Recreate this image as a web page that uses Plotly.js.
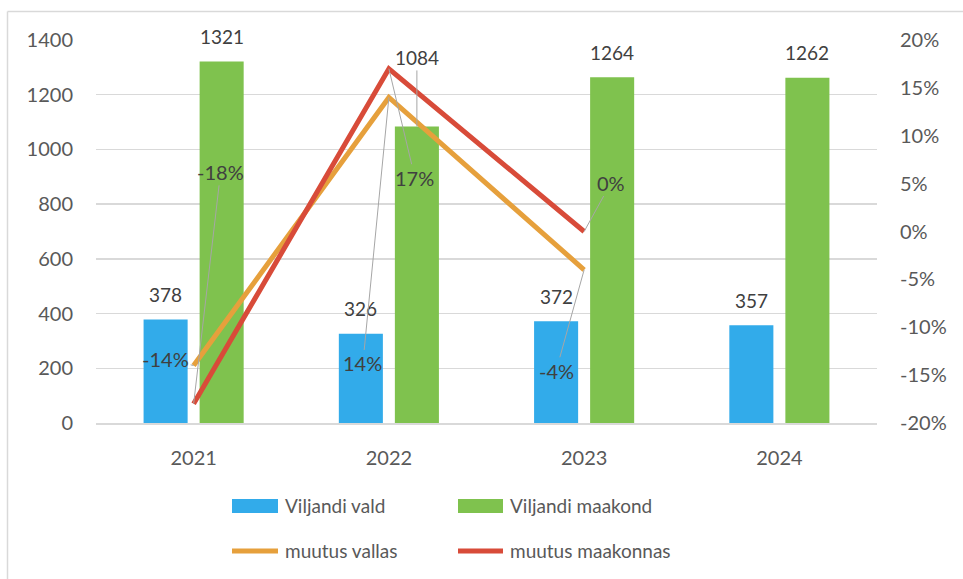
<!DOCTYPE html>
<html>
<head>
<meta charset="utf-8">
<script src="https://cdn.plot.ly/plotly-3.0.1.min.js"></script>
<style>
  html, body { margin: 0; padding: 0; background: #fff; }
  #chart { width: 963px; height: 579px; }
</style>
</head>
<body>
<div id="chart"></div>
<script>
// ---- data ----
const years = ['2021', '2022', '2023', '2024'];
const seriesNames = ['Viljandi vald', 'Viljandi maakond', 'muutus vallas', 'muutus maakonnas'];
const vald = [378, 326, 372, 357];
const maakond = [1321, 1084, 1264, 1262];
const muutusVallas = [-0.14, 0.14, -0.04];
const muutusMaakonnas = [-0.18, 0.17, 0.00];
const leftTickVals = [0, 200, 400, 600, 800, 1000, 1200, 1400];
const rightTickVals = [-0.20, -0.15, -0.10, -0.05, 0, 0.05, 0.10, 0.15, 0.20];
const rightTickText = ['-20%', '-15%', '-10%', '-5%', '0%', '5%', '10%', '15%', '20%'];

// ---- styles ----
const FONT = 'Lato, "Open Sans", sans-serif';
const colBlue = '#32ABEA', colGreen = '#7FC24E', colOrange = '#E6A03C', colRed = '#D84B39';
const grid = '#D9D9D9', tickCol = '#595959', labelCol = '#404040', leader = '#A6A6A6';

const pct = v => (Math.round(v * 100) < 0 ? '-' + Math.abs(Math.round(v * 100)) : String(Math.round(v * 100))) + '%';

const traces = [
  { type: 'bar', name: seriesNames[0], x: years, y: vald, marker: { color: colBlue }, hoverinfo: 'skip' },
  { type: 'bar', name: seriesNames[1], x: years, y: maakond, marker: { color: colGreen }, hoverinfo: 'skip' },
  { type: 'scatter', mode: 'lines', name: seriesNames[2], x: years.slice(0, muutusVallas.length), y: muutusVallas,
    yaxis: 'y2', line: { color: colOrange, width: 5 }, hoverinfo: 'skip' },
  { type: 'scatter', mode: 'lines', name: seriesNames[3], x: years.slice(0, muutusMaakonnas.length), y: muutusMaakonnas,
    yaxis: 'y2', line: { color: colRed, width: 5 }, hoverinfo: 'skip' }
];

const annotations = [];
// bar value labels (category axis: annotation x = category index)
const barLabelStyle = { font: { family: FONT, size: 19, color: labelCol } };
const pctLabelStyle = { font: { family: FONT, size: 20, color: labelCol } };
const displacedBar = { 'maakond-1': -69 };
[[vald, -28, 'vald'], [maakond, 28, 'maakond']].forEach(([arr, dx, key]) => {
  arr.forEach((v, i) => {
    const d = displacedBar[key + '-' + i];
    if (d !== undefined) {
      annotations.push(Object.assign({ x: i, y: v, xref: 'x', yref: 'y', text: String(v), xshift: dx,
        showarrow: true, arrowhead: 0, arrowwidth: 1, arrowcolor: leader, ax: 0, ay: d, standoff: 0 }, barLabelStyle));
    } else {
      annotations.push(Object.assign({ x: i, y: v, xref: 'x', yref: 'y', text: String(v), xshift: dx,
        yshift: 25, showarrow: false, yanchor: 'middle' }, barLabelStyle));
    }
  });
});
// percentage labels with leader lines
const pctOffsets = {
  vallas: [[-28, -7], [-26, 266], [-28, 101]],
  maakonnas: [[27, -232], [26, 109], [27, -49]]
};
[[muutusVallas, 'vallas'], [muutusMaakonnas, 'maakonnas']].forEach(([arr, key]) => {
  arr.forEach((v, i) => {
    annotations.push(Object.assign({ x: i, y: v, xref: 'x', yref: 'y2', text: pct(v),
      showarrow: true, arrowhead: 0, arrowwidth: 1, arrowcolor: leader, standoff: 0,
      ax: pctOffsets[key][i][0], ay: pctOffsets[key][i][1] }, pctLabelStyle));
  });
});

// custom legend (paper coords, plot area l=96 t=40 w=781 h=383)
const L = 96, T = 40, W = 781, H = 383;
const px = x => (x - L) / W, py = y => (T + H - y) / H;
const shapes = [
  { type: 'line', xref: 'paper', yref: 'paper', x0: px(7.5), x1: px(970), y0: py(11.5), y1: py(11.5), line: { color: grid, width: 1.5 } },
  { type: 'line', xref: 'paper', yref: 'paper', x0: px(7.5), x1: px(7.5), y0: py(11.5), y1: py(590), line: { color: grid, width: 1.5 } },
  { type: 'rect', xref: 'paper', yref: 'paper', x0: px(232), x1: px(278), y0: py(499), y1: py(513), fillcolor: colBlue, line: { width: 0 } },
  { type: 'rect', xref: 'paper', yref: 'paper', x0: px(458), x1: px(503), y0: py(499), y1: py(513), fillcolor: colGreen, line: { width: 0 } },
  { type: 'line', xref: 'paper', yref: 'paper', x0: px(232), x1: px(278), y0: py(551), y1: py(551), line: { color: colOrange, width: 5 } },
  { type: 'line', xref: 'paper', yref: 'paper', x0: px(458), x1: px(503), y0: py(551), y1: py(551), line: { color: colRed, width: 5 } }
];
const legendPos = [[283, 505], [508, 505], [283, 550], [508, 550]];
seriesNames.forEach((n, i) => {
  annotations.push({ xref: 'paper', yref: 'paper', x: px(legendPos[i][0]), y: py(legendPos[i][1]), text: n,
    xanchor: 'left', yanchor: 'middle', showarrow: false, font: { family: FONT, size: 19, color: tickCol } });
});

const layout = {
  width: 963, height: 579,
  margin: { l: L, r: 963 - L - W, t: T, b: 579 - T - H, pad: 0 },
  paper_bgcolor: '#fff', plot_bgcolor: '#fff',
  font: { family: FONT, color: tickCol, size: 20 },
  showlegend: false,
  barmode: 'group', bargap: 0.426, bargroupgap: 0.214,
  xaxis: { type: 'category', range: [-0.5, years.length - 0.5], showgrid: false, showline: true, linecolor: grid, linewidth: 1.5,
    ticks: '', tickfont: { family: FONT, size: 20, color: tickCol }, ticklabelstandoff: 16, zeroline: false },
  yaxis: { range: [0, 1400], tickvals: leftTickVals, showgrid: true, gridcolor: grid, gridwidth: 1.5,
    zeroline: false, showline: false, ticks: '', tickfont: { family: FONT, size: 20, color: tickCol }, ticklabelstandoff: 22 },
  yaxis2: { overlaying: 'y', side: 'right', range: [-0.2, 0.2], tickvals: rightTickVals, ticktext: rightTickText,
    showgrid: false, zeroline: false, showline: false, ticks: '', tickfont: { family: FONT, size: 20, color: tickCol }, ticklabelstandoff: 22 },
  annotations: annotations,
  shapes: shapes
};

Plotly.newPlot('chart', traces, layout, { staticPlot: true, displayModeBar: false });
</script>
</body>
</html>
